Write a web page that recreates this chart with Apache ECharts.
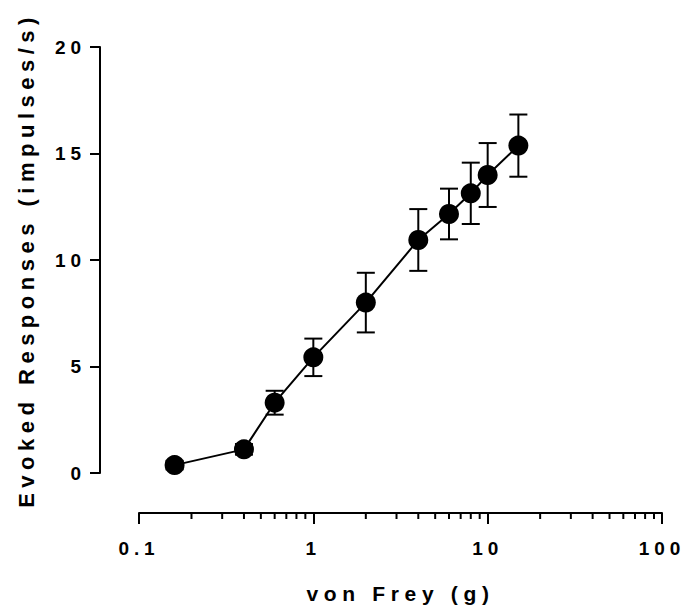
<!DOCTYPE html>
<html>
<head>
<meta charset="utf-8">
<script src="https://cdn.jsdelivr.net/npm/echarts@6/dist/echarts.min.js"></script>
<style>
html,body{margin:0;padding:0;background:#fff;}
#chart{width:688px;height:609px;}
#chart text{letter-spacing:0.27em;}
#chart text[style*="19px"]{letter-spacing:0.26em;}
#chart text[style*="22px"]{letter-spacing:0.25em;}
</style>
</head>
<body>
<div id="chart"></div>
<script>
// von Frey force (g)
const forces = [0.16, 0.4, 0.6, 1, 2, 4, 6, 8, 10, 15];
// mean evoked responses (impulses/s)
const means = [0.37, 1.11, 3.30, 5.43, 8.00, 10.94, 12.16, 13.13, 13.99, 15.37];
// error (SEM)
const errors = [0.20, 0.25, 0.56, 0.88, 1.40, 1.45, 1.19, 1.44, 1.50, 1.46];
// tick labels
const xTickValues = [0.1, 1, 10, 100];
const xTickLabels = ['0.1', '1', '10', '100'];
const xMinorTicks = [0.2,0.3,0.4,0.5,0.6,0.7,0.8,0.9, 2,3,4,5,6,7,8,9, 20,30,40,50,60,70,80,90];
const yTickLabels = ['0', '5', '10', '15', '20'];
const xTitle = 'von Frey (g)';
const yTitle = 'Evoked Responses (impulses/s)';

const FONT = "'Liberation Sans', Arial, Helvetica, sans-serif";
const X_OFFSET = 40;

const chart = echarts.init(document.getElementById('chart'), null, {renderer: 'svg'});

const lineData = forces.map((f, i) => [f, means[i]]);
const errData = forces.map((f, i) => [f, means[i] - errors[i], means[i] + errors[i]]);
const minorData = xMinorTicks.map(v => [v, 0]);

chart.setOption({
  animation: false,
  backgroundColor: '#fff',
  grid: {left: 139, right: 26, top: 47, bottom: 136, containLabel: false},
  xAxis: {
    type: 'log', logBase: 10, min: 0.1, max: 100,
    offset: X_OFFSET,
    name: xTitle, nameLocation: 'middle', nameGap: 70,
    nameTextStyle: {fontFamily: FONT, fontWeight: 'bold', fontSize: 21, color: '#000'},
    axisLine: {show: true, onZero: false, lineStyle: {color: '#000', width: 2}},
    axisTick: {show: true, length: 11, lineStyle: {color: '#000', width: 2}},
    axisLabel: {
      fontFamily: FONT, fontWeight: 'bold', fontSize: 19, color: '#000', margin: 26,
      formatter: v => {
        const idx = xTickValues.findIndex(t => Math.abs(Math.log10(t) - Math.log10(v)) < 1e-6);
        return idx >= 0 ? xTickLabels[idx] : '';
      }
    },
    splitLine: {show: false}
  },
  yAxis: {
    type: 'value', min: 0, max: 20, interval: 5,
    offset: 39,
    name: yTitle, nameLocation: 'middle', nameGap: 63, nameRotate: 90,
    nameTextStyle: {fontFamily: FONT, fontWeight: 'bold', fontSize: 22, color: '#000'},
    axisLine: {show: true, lineStyle: {color: '#000', width: 2}},
    axisTick: {show: true, length: 10, lineStyle: {color: '#000', width: 2}},
    axisLabel: {
      fontFamily: FONT, fontWeight: 'bold', fontSize: 19, color: '#000', margin: 14,
      formatter: v => yTickLabels[Math.round(v / 5)]
    },
    splitLine: {show: false}
  },
  series: [
    {
      type: 'custom',
      clip: false,
      silent: true,
      data: minorData,
      encode: {x: 0, y: 1},
      renderItem: (params, api) => {
        const p = api.coord([api.value(0), 0]);
        const y0 = p[1] + X_OFFSET;
        return {type: 'line', shape: {x1: p[0], y1: y0, x2: p[0], y2: y0 + 6},
          style: {stroke: '#000', lineWidth: 2}};
      },
      z: 1
    },
    {
      type: 'custom',
      data: errData,
      encode: {x: 0, y: [1, 2]},
      renderItem: (params, api) => {
        const x = api.value(0);
        const lo = api.coord([x, api.value(1)]);
        const hi = api.coord([x, api.value(2)]);
        const w = 9;
        const st = {stroke: '#000', lineWidth: 2};
        return {type: 'group', children: [
          {type: 'line', shape: {x1: hi[0], y1: hi[1], x2: lo[0], y2: lo[1]}, style: st},
          {type: 'line', shape: {x1: hi[0] - w, y1: hi[1], x2: hi[0] + w, y2: hi[1]}, style: st},
          {type: 'line', shape: {x1: lo[0] - w, y1: lo[1], x2: lo[0] + w, y2: lo[1]}, style: st}
        ]};
      },
      z: 2
    },
    {
      type: 'line',
      data: lineData,
      symbol: 'circle',
      symbolSize: 20,
      itemStyle: {color: '#000'},
      lineStyle: {color: '#000', width: 2},
      z: 3
    }
  ]
});
</script>
</body>
</html>
